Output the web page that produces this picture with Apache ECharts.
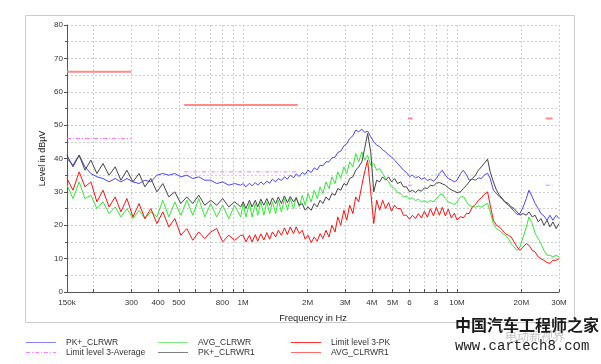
<!DOCTYPE html>
<html><head><meta charset="utf-8">
<script src="https://cdn.jsdelivr.net/npm/echarts@6/dist/echarts.min.js"></script>
<style>html,body{margin:0;padding:0;background:#fff}#c{width:601px;height:364px}</style>
</head><body><div id="c"></div>
<script>
// Frequencies in MHz (shared by the four measured traces)
const freqMHz = [
0.150,0.160,0.171,0.182,0.194,0.207,0.221,0.236,0.252,0.268,0.286,0.305,0.326,0.347,0.370,0.395,0.421,0.449,0.479,0.511,0.545,0.581,0.620,0.661,0.705,0.752,0.802,0.856,0.913,0.974,
1.00,1.03,1.07,1.10,1.14,1.17,1.21,1.25,1.29,1.33,
1.37,1.42,1.46,1.51,1.56,1.61,1.66,1.72,1.77,1.83,
1.89,1.95,2.01,2.08,2.15,2.22,2.29,2.36,2.44,2.52,
2.60,2.69,2.77,2.86,2.96,3.05,3.15,3.26,3.36,3.47,
3.59,3.70,3.82,3.95,4.08,4.21,4.35,4.49,4.64,4.79,
4.94,5.11,5.27,5.45,5.62,5.81,6.00,6.19,6.40,6.60,
6.82,7.04,7.27,7.51,7.76,8.01,8.27,8.54,8.82,9.11,
9.41,9.72,10.0,10.4,10.7,11.1,11.4,11.8,12.2,12.6,
13.0,13.4,13.9,14.3,14.8,15.3,15.8,16.3,16.8,17.4,
17.9,18.5,19.1,19.7,20.4,21.1,21.7,22.5,23.2,24.0,
24.7,25.5,26.4,27.2,28.1,29.1,30.0];

const pkClrwr = [
40,38,41,37.5,35.5,34.5,34,33,34,33,34,33,32.5,33.5,33,35,35.5,35,35.5,34.5,35,34,34.5,33.5,33.5,32.5,33,32,32.5,32,
32.5,31.5,32.6,31.8,32.8,32,33,32.2,33.2,32.6,
33.8,33,34,33.4,34.5,33.8,35,34.2,35.4,34.6,
35.8,35.2,36.5,35.8,37.2,36.6,38,37.8,39,39,
40.2,40.4,41.8,42.2,43.8,44.4,46,46.8,48.5,48,
48.8,47.8,48.2,46.5,45,44,43.6,42.6,42,41,
40.5,39.5,38.5,37.5,36.5,35.8,34.6,35,34.2,34.6,
33.8,34.2,33.4,33.8,33.2,34,35.5,36.5,35,34,
33.6,33,33.5,35.5,36.5,35,33.5,33.8,33.5,34.2,
34,35,35.6,34,30.5,29.5,28.5,27.8,26.8,26,
25.2,24.2,23.2,23.5,25.5,28,30.5,28.5,26.5,25,
23.5,22.8,21.5,23,21.5,23,22];

const avgClrwr = [
32,28,33,28,29,25,27,23.5,25.5,22.5,25,22,24.5,22,24,22.5,27.5,22.5,27,23,27.5,23,28,22.5,26.5,22.5,26,22,26,22.5,
26.5,22.5,26.5,22.5,26.5,23,27,23,27,23.5,
27,23.5,27.5,24,28,24.5,28,25,28.5,25.5,
29,26,29.5,27,30.5,28,31.5,29.5,33,31,
34.5,32.5,36,34,37.5,35.5,39,37.5,41.5,39,
42,39.5,41,38,38.5,36.5,37,35.5,34,33,
31.5,31,29.8,29.5,28.5,28.8,27.8,28.2,27.4,27.8,
27,27.4,26.8,27.4,27,28,29,29.5,28,27,
26.6,26.2,27,28.5,28.6,27,26,25.6,25.4,25.8,
25.4,26,26.6,24,20.5,19,18.5,17.5,17,16,
14.5,13.5,12.5,13.5,16.5,19.5,22.5,20.5,17.5,16,
14.5,12.5,11,11,10.5,11,10.5];

const pkClrwr1 = [
41,37.5,41,36.5,39.5,35.5,38.5,35,37.5,33.5,36.5,33,35.5,31.5,34,30,32.5,28.5,30,26.5,28.5,26.5,29,26,27.5,26,28,25.5,27,25.5,
27,25,27.5,25.5,27.5,25.5,27.8,26,28,26,
28.2,26.5,28.5,26.5,28.8,26.8,28.6,27,28.2,26,
26.5,24.5,25.5,24.5,26.5,25.5,27.5,26.5,28.5,27.5,
29.5,29,31,30.5,32.5,32,34,34.5,36.5,37.5,
39,43,47.5,42,30,33.5,33,34.5,33.5,34.5,
33,34,32.5,33,31.5,31.5,30,30.5,29.8,30.6,
30.2,31.2,31,32,31.8,32.6,32.8,32.4,32,31.2,
30.6,30.2,29.8,30,31,32,33,34,35,36.5,
37.5,38.5,39.8,36,33,30.5,29,28,27,26.5,
25.5,25,24,23,23.5,23,24,22.5,23,21,
22,20,21.5,19.5,21,19,20.5];

const avgClrwr1 = [
34,30.5,36,31.5,33,27,30.5,25.5,28.5,24,28,22.5,26.5,22,25,20.5,24,19.5,22,17,19,15.5,18,16,18,19,15,17,15.5,17,
17,15,17,15,17.2,15.2,17.4,15.6,17.8,15.8,
18,16.5,18.5,17,19.2,17.2,19.5,17.5,19.5,17.5,
18.5,15.8,17,14.8,16.5,15.2,17.5,16,18.5,16.5,
20,18,22.5,20,24.5,21.5,26,23.5,28.5,27,
32,36,39.5,30,20.5,27.5,24.5,27.5,25,26.8,
24.2,26,25,25,23,23,21.8,23,22,23.5,
22.2,24.2,22.4,25,22.8,25.4,23,25.4,22.8,24.8,
22.2,23.6,21.6,22.6,22.2,23.6,23.5,25.5,26.2,27.5,
28.2,29.2,30,26,21.5,20,19.5,18.5,17.5,17,
16.5,15,13.5,12.5,13.5,14.5,14,12.5,12,10.5,
10,9.5,8.8,8.6,9.5,9.5,10];

// Limit lines: segments [startMHz, endMHz] with levels
const limitBandsMHz = [[0.15,0.3],[0.53,1.8],[5.9,6.2],[26,28]];
const limitPk = [66,56,52,52];
const limitAvg = [46,36,32,32];

// Axis ticks
const tickFreqMHz = [0.15,0.2,0.3,0.4,0.5,0.6,0.7,0.8,0.9,1,2,3,4,5,6,7,8,9,10,20,30];
const labelFreqMHz = [0.15,0.3,0.4,0.5,0.8,1,2,3,4,5,6,8,10,20,30];
const labelText = ['150k','300','400','500','800','1M','2M','3M','4M','5M','6','8','10M','20M','30M'];

const lg = f => Math.log10(f * 1e6);
const trace = vals => freqMHz.map((f, i) => [lg(f), vals[i]]);
const limitData = lv => {
  const out = [];
  limitBandsMHz.forEach((b, i) => {
    out.push([lg(b[0]), lv[i]], [lg(b[1]), lv[i]], [lg(b[1]), '-']);
  });
  return out;
};

const FONT = 'Liberation Sans';
const gridLine = {show: true, lineStyle: {color: '#cfcfcf', type: [2, 2], width: 1}};

const SOLID_ICON = 'path://M0,0H30V1H0Z';
const DASHDOT_ICON = 'path://M0,0H4V1H0Z M6,0H7V1H6Z M9,0H13V1H9Z M15,0H16V1H15Z M18,0H22V1H18Z M24,0H25V1H24Z M27,0H30V1H27Z';
const legendItems = [
  {name: 'PK+_CLRWR', left: 26, top: 338, color: '#8080ff', icon: SOLID_ICON},
  {name: 'Limit level 3-Average', left: 26, top: 348, color: '#ff80ff', icon: DASHDOT_ICON},
  {name: 'AVG_CLRWR', left: 158, top: 338, color: '#7cf07c', icon: SOLID_ICON},
  {name: 'PK+_CLRWR1', left: 158, top: 348, color: '#808080', icon: SOLID_ICON},
  {name: 'Limit level 3-PK', left: 291, top: 338, color: '#ff3030', icon: SOLID_ICON},
  {name: 'AVG_CLRWR1', left: 291, top: 348, color: '#ff6a6a', icon: SOLID_ICON}
];

const chart = echarts.init(document.getElementById('c'), null, {renderer: 'canvas'});
chart.setOption({
  animation: false,
  backgroundColor: '#fff',
  textStyle: {fontFamily: FONT},
  grid: {left: 67, right: 42, top: 25, bottom: 72},
  graphic: [
    {type: 'rect', silent: true, z: -1, shape: {x: 25.5, y: 15.5, width: 549, height: 307},
     style: {fill: 'none', stroke: '#cccccc', lineWidth: 1}},
    {type: 'text', left: 505, top: 330, z: 100, style: {text: '电动新视界', font: '12px "Noto Sans CJK SC"', fill: '#c4c4c4'}},
    {type: 'text', left: 455, top: 317, z: 101, style: {text: '中国汽车工程师之家', font: 'bold 16px "Noto Sans CJK SC"', fill: '#1c1c1c'}},
    {type: 'text', left: 455, top: 339, z: 101, style: {text: 'www.cartech8.com', font: '14px "Liberation Mono"', fill: '#222'}}
  ],
  legend: legendItems.map(it => ({
    left: it.left, top: it.top, padding: 0, orient: 'horizontal',
    itemWidth: 30, itemHeight: 1, selectedMode: false,
    textStyle: {fontSize: 8.5, color: '#333', padding: [0, 0, 0, 5]},
    data: [{name: it.name, icon: it.icon, itemStyle: {color: it.color, borderWidth: 0}}]
  })),
  xAxis: {
    type: 'value', min: lg(0.15), max: lg(30),
    name: 'Frequency in Hz', nameLocation: 'middle', nameGap: 22, nameMoveOverlap: false,
    nameTextStyle: {fontSize: 9.3, color: '#222'},
    axisLine: {show: true, onZero: false, lineStyle: {color: '#555'}},
    axisTick: {show: true, inside: true, length: 3, lineStyle: {color: '#555'}, customValues: tickFreqMHz.map(lg)},
    axisLabel: {
      fontSize: 8, color: '#333', margin: 7, showMinLabel: true, showMaxLabel: true,
      customValues: labelFreqMHz.map(lg),
      formatter: v => {
        for (let i = 0; i < labelFreqMHz.length; i++) if (Math.abs(lg(labelFreqMHz[i]) - v) < 1e-6) return labelText[i];
        return '';
      }
    },
    splitLine: gridLine
  },
  yAxis: {
    type: 'value', min: 0, max: 80, interval: 10,
    name: 'Level in dBµV', nameLocation: 'middle', nameGap: 20, nameMoveOverlap: false,
    nameTextStyle: {fontSize: 9, color: '#222'},
    axisLine: {show: true, lineStyle: {color: '#555'}},
    axisTick: {show: true, length: 3, lineStyle: {color: '#555'}},
    minorTick: {show: true, splitNumber: 2, length: 2, lineStyle: {color: '#555'}},
    axisLabel: {fontSize: 8, color: '#333', margin: 4},
    splitLine: gridLine,
    minorSplitLine: gridLine
  },
  series: [
    {name: 'PK+_CLRWR', type: 'line', symbol: 'none', data: trace(pkClrwr),
     lineStyle: {width: 1, color: '#4848f4'}, itemStyle: {color: '#4848f4'}},
    {name: 'Limit level 3-Average', type: 'line', symbol: 'none', data: limitData(limitAvg),
     lineStyle: {width: 1, color: '#ff70ff', type: [4, 2, 1, 2]}, itemStyle: {color: '#ff70ff'}},
    {name: 'AVG_CLRWR', type: 'line', symbol: 'none', data: trace(avgClrwr),
     lineStyle: {width: 1, color: '#33e833'}, itemStyle: {color: '#33e833'}},
    {name: 'PK+_CLRWR1', type: 'line', symbol: 'none', data: trace(pkClrwr1),
     lineStyle: {width: 1, color: '#444444'}, itemStyle: {color: '#444444'}},
    {name: 'Limit level 3-PK', type: 'line', symbol: 'none', data: limitData(limitPk),
     lineStyle: {width: 2, color: '#ff8a8a'}, itemStyle: {color: '#ff3030'}},
    {name: 'AVG_CLRWR1', type: 'line', symbol: 'none', data: trace(avgClrwr1),
     lineStyle: {width: 1, color: '#ff1010'}, itemStyle: {color: '#ff1010'}}
  ]
});
</script>
</body></html>
